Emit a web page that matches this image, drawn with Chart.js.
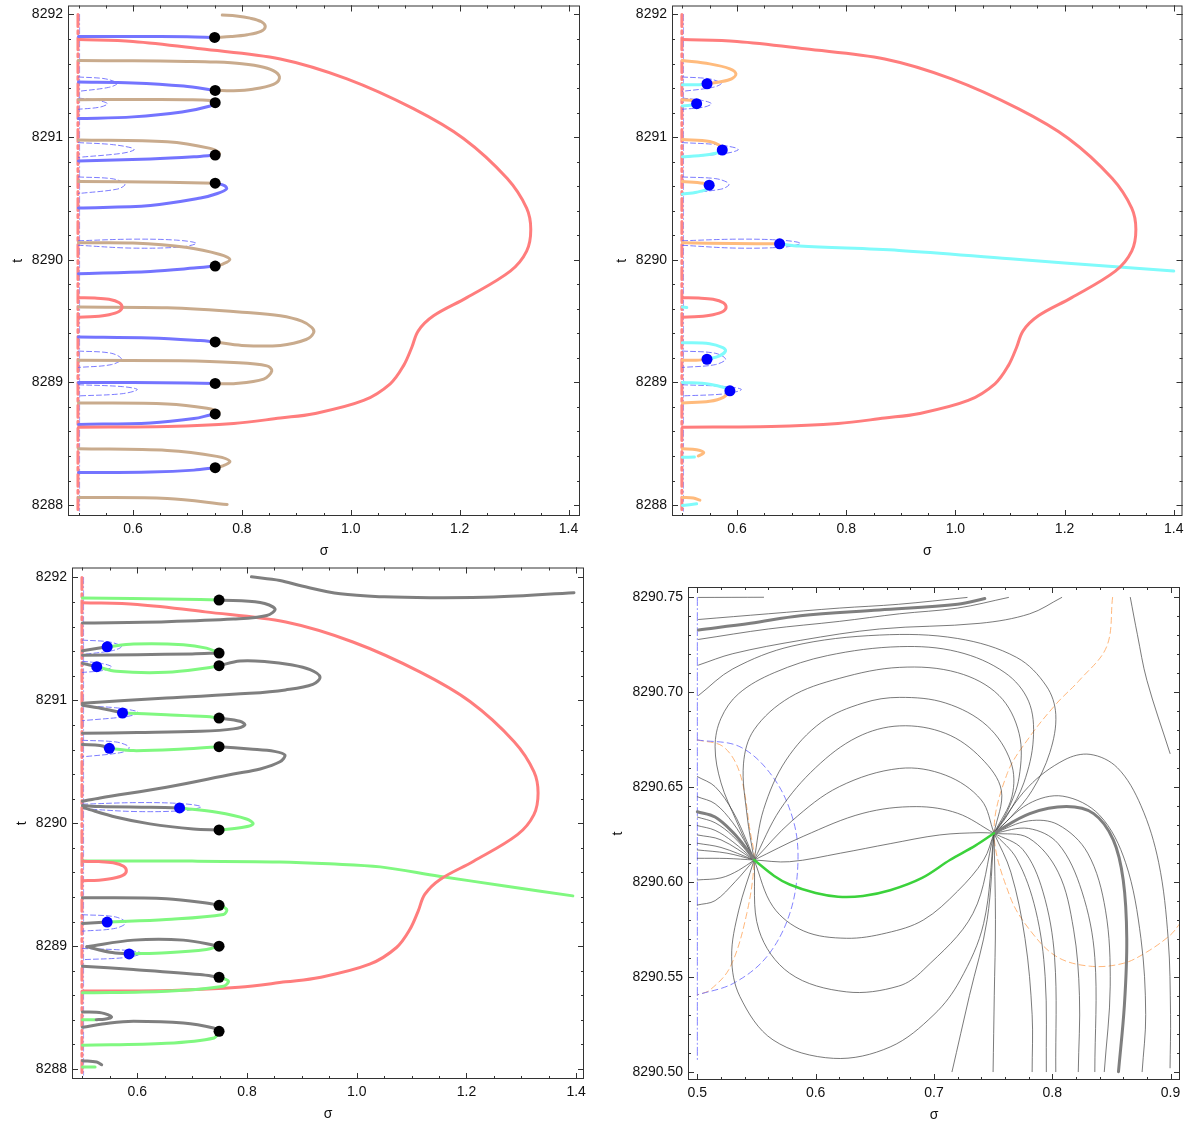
<!DOCTYPE html>
<html>
<head>
<meta charset="utf-8">
<script src="https://cdn.jsdelivr.net/npm/chart.js@4.4.1/dist/chart.umd.min.js"></script>
<style>
  body { margin: 0; background: #fff; }
  #wrap { position: relative; width: 1188px; height: 1130px; }
  canvas { position: absolute; }
</style>
</head>
<body>
<div id="wrap">
  <canvas id="cTL" width="594" height="562" style="left:0;top:0"></canvas>
  <canvas id="cTR" width="594" height="562" style="left:594px;top:0"></canvas>
  <canvas id="cBL" width="594" height="568" style="left:0;top:562px"></canvas>
  <canvas id="cBR" width="594" height="568" style="left:594px;top:562px"></canvas>
</div>
<script>
// ---- ticks ----
const xTicksMain = [0.6, 0.8, 1.0, 1.2, 1.4];
const xLabelsMain = ['0.6', '0.8', '1.0', '1.2', '1.4'];
const tTicksMain = [8288, 8289, 8290, 8291, 8292];
const tLabelsMain = ['8288', '8289', '8290', '8291', '8292'];
const xTicksZoom = [0.5, 0.6, 0.7, 0.8, 0.9];
const xLabelsZoom = ['0.5', '0.6', '0.7', '0.8', '0.9'];
const tTicksZoom = [8290.50, 8290.55, 8290.60, 8290.65, 8290.70, 8290.75];
const tLabelsZoom = ['8290.50', '8290.55', '8290.60', '8290.65', '8290.70', '8290.75'];

// ---- curves shared by the three overview panels (sigma, t) ----
const redLoop = [[0.5,8291.795],[0.6,8291.78],[0.724,8291.72],[0.8706,8291.6375],[0.993,8291.475],[1.115,8291.232],[1.207,8290.989],[1.287,8290.664],[1.323,8290.421],[1.3306,8290.246],[1.323,8290.07],[1.293,8289.907],[1.213,8289.691],[1.152,8289.543],[1.124,8289.421],[1.112,8289.285],[1.097,8289.137],[1.0725,8288.989],[1.0235,8288.853],[0.932,8288.745],[0.8706,8288.71],[0.785,8288.665],[0.663,8288.64],[0.5,8288.635]];
const redSmall = [[0.5,8289.69],[0.53,8289.688],[0.556,8289.678],[0.575,8289.65],[0.58,8289.614],[0.575,8289.58],[0.556,8289.552],[0.53,8289.537],[0.5,8289.532]];
const redEdge = [[0.499,8292.0],[0.499,8287.95]];
const blueEdge = [[0.502,8292.0],[0.502,8287.95]];
const dashLoop1 = [[0.5,8291.49],[0.545,8291.478],[0.565,8291.455],[0.571,8291.435],[0.555,8291.405],[0.5,8291.373]];
const dashLoop2 = [[0.5,8291.318],[0.535,8291.3],[0.553,8291.273],[0.54,8291.245],[0.5,8291.227]];
const dashLoop3 = [[0.5,8290.955],[0.56,8290.94],[0.598,8290.912],[0.602,8290.895],[0.58,8290.868],[0.5,8290.835]];
const dashLoop4 = [[0.5,8290.675],[0.56,8290.662],[0.582,8290.632],[0.585,8290.608],[0.57,8290.575],[0.5,8290.54]];
const dashLoop5 = [[0.5,8290.155],[0.6,8290.168],[0.68,8290.16],[0.716,8290.135],[0.69,8290.105],[0.6,8290.095],[0.5,8290.118]];
const dashLoop6 = [[0.5,8289.256],[0.56,8289.238],[0.579,8289.19],[0.56,8289.145],[0.5,8289.122]];
const dashLoop7 = [[0.5,8288.981],[0.58,8288.966],[0.608,8288.942],[0.58,8288.908],[0.5,8288.89]];

// ---- top-left panel ----
const tlTanA = [[0.764,8291.995],[0.79,8291.988],[0.815,8291.97],[0.836,8291.94],[0.843,8291.9],[0.835,8291.862],[0.81,8291.835],[0.78,8291.82],[0.752,8291.813]];
const tlBlueA = [[0.5,8291.82],[0.6,8291.821],[0.7,8291.818],[0.75,8291.813]];
const tlTanB = [[0.5,8291.624],[0.6,8291.622],[0.7,8291.617],[0.75,8291.612],[0.8,8291.598],[0.84,8291.57],[0.862,8291.53],[0.869,8291.48],[0.858,8291.43],[0.82,8291.39],[0.785,8291.378],[0.752,8291.381]];
const tlBlueB = [[0.5,8291.449],[0.6,8291.442],[0.693,8291.416],[0.75,8291.381]];
const tlTanC = [[0.5,8291.305],[0.6,8291.306],[0.7,8291.304],[0.742,8291.298],[0.751,8291.281]];
const tlBlueC = [[0.5,8291.151],[0.6,8291.165],[0.69,8291.205],[0.742,8291.254],[0.751,8291.281]];
const tlTanD = [[0.5,8290.976],[0.663,8290.962],[0.742,8290.908],[0.759,8290.868],[0.751,8290.854]];
const tlBlueD = [[0.5,8290.805],[0.632,8290.822],[0.712,8290.84],[0.751,8290.854]];
const tlTanE = [[0.5,8290.638],[0.663,8290.632],[0.751,8290.624]];
const tlBlueE = [[0.751,8290.624],[0.768,8290.605],[0.772,8290.578],[0.755,8290.54],[0.724,8290.503],[0.632,8290.443],[0.5,8290.422]];
const tlTanF = [[0.5,8290.138],[0.6,8290.136],[0.7,8290.1],[0.76,8290.043],[0.778,8290.003],[0.765,8289.965],[0.751,8289.949]];
const tlBlueF = [[0.5,8289.886],[0.632,8289.905],[0.712,8289.932],[0.751,8289.949]];
const tlTanG = [[0.5,8289.614],[0.663,8289.608],[0.816,8289.568],[0.8706,8289.543],[0.91,8289.5],[0.928,8289.45],[0.932,8289.407],[0.918,8289.35],[0.8706,8289.302],[0.8,8289.302],[0.751,8289.33]];
const tlBlueG = [[0.5,8289.37],[0.632,8289.362],[0.724,8289.341],[0.751,8289.33]];
const tlTanH = [[0.5,8289.181],[0.687,8289.176],[0.785,8289.162],[0.846,8289.135],[0.855,8289.095],[0.84,8289.027],[0.785,8288.99],[0.751,8288.992]];
const tlBlueH = [[0.5,8289.0],[0.6,8289.0],[0.7,8288.995],[0.751,8288.992]];
const tlTanI = [[0.5,8288.832],[0.663,8288.825],[0.736,8288.79],[0.758,8288.757],[0.751,8288.743]];
const tlBlueI = [[0.5,8288.657],[0.632,8288.67],[0.712,8288.705],[0.742,8288.735],[0.751,8288.743]];
const tlTanJ = [[0.5,8288.459],[0.663,8288.445],[0.754,8288.397],[0.778,8288.357],[0.765,8288.32],[0.751,8288.305]];
const tlBlueJ = [[0.5,8288.265],[0.632,8288.27],[0.712,8288.285],[0.751,8288.305]];
const tlTanK = [[0.5,8288.062],[0.663,8288.054],[0.773,8288.005]];
const tlDots = [[0.75,8291.813],[0.751,8291.381],[0.751,8291.281],[0.751,8290.854],[0.751,8290.624],[0.751,8289.949],[0.751,8289.33],[0.751,8288.992],[0.751,8288.743],[0.751,8288.305]];

// ---- top-right panel ----
const trOrA = [[0.5,8291.624],[0.55,8291.597],[0.587,8291.557],[0.598,8291.516],[0.59,8291.475],[0.568,8291.449],[0.545,8291.435]];
const trCyA = [[0.5,8291.427],[0.525,8291.427],[0.545,8291.435]];
const trOrB = [[0.5,8291.305],[0.52,8291.297],[0.526,8291.273]];
const trCyB = [[0.5,8291.254],[0.514,8291.259],[0.526,8291.273]];
const trOrC = [[0.5,8290.981],[0.55,8290.965],[0.567,8290.935],[0.573,8290.895]];
const trCyC = [[0.5,8290.84],[0.53,8290.848],[0.561,8290.868],[0.573,8290.895]];
const trOrD = [[0.5,8290.638],[0.538,8290.624],[0.549,8290.608]];
const trCyD = [[0.5,8290.535],[0.526,8290.551],[0.545,8290.575],[0.549,8290.608]];
const trOrE = [[0.5,8290.138],[0.593,8290.132],[0.678,8290.13]];
const trCyE = [[0.678,8290.13],[0.714,8290.112],[0.897,8290.076],[1.1,8290.008],[1.3,8289.941],[1.4,8289.908]];
const trCySmall = [[0.5,8289.614],[0.508,8289.61]];
const trCyF = [[0.5,8289.324],[0.55,8289.316],[0.574,8289.284],[0.579,8289.257],[0.568,8289.216],[0.545,8289.189]];
const trOrF = [[0.5,8289.181],[0.525,8289.181],[0.545,8289.189]];
const trCyG = [[0.5,8289.0],[0.55,8288.986],[0.58,8288.954],[0.587,8288.932]];
const trOrG = [[0.5,8288.832],[0.55,8288.846],[0.575,8288.878],[0.587,8288.932]];
const trOrH = [[0.5,8288.459],[0.526,8288.451],[0.539,8288.427],[0.529,8288.4]];
const trCyH = [[0.5,8288.389],[0.522,8288.392]];
const trOrI = [[0.5,8288.062],[0.52,8288.057],[0.532,8288.04]];
const trCyI = [[0.5,8287.997],[0.526,8288.01]];
const trBlueDots = [[0.545,8291.435],[0.526,8291.273],[0.573,8290.895],[0.549,8290.608],[0.678,8290.13],[0.545,8289.189],[0.587,8288.932]];

// ---- bottom-left panel ----
const blGreenA = [[0.5,8291.832],[0.681,8291.823],[0.749,8291.816]];
const blGrayA = [[0.749,8291.816],[0.824,8291.797],[0.851,8291.743],[0.836,8291.69],[0.775,8291.661],[0.653,8291.64],[0.5,8291.629]];
const blGrayTop = [[0.808,8292.005],[0.86,8291.976],[0.9,8291.93],[0.97,8291.867],[1.05,8291.842],[1.134,8291.835],[1.25,8291.84],[1.396,8291.876]];
const blGreenB = [[0.545,8291.436],[0.593,8291.458],[0.684,8291.453],[0.726,8291.425],[0.749,8291.385]];
const blGrayB1 = [[0.5,8291.404],[0.545,8291.436]];
const blGrayB2 = [[0.5,8291.368],[0.6,8291.372],[0.7,8291.378],[0.749,8291.385]];
const blGrayC1 = [[0.5,8291.301],[0.526,8291.274]];
const blGreenC = [[0.526,8291.274],[0.562,8291.236],[0.653,8291.228],[0.726,8291.263],[0.749,8291.282]];
const blGrayD = [[0.749,8291.282],[0.787,8291.32],[0.836,8291.315],[0.88,8291.29],[0.915,8291.25],[0.933,8291.19],[0.92,8291.13],[0.87,8291.085],[0.805,8291.057],[0.653,8291.019],[0.5,8290.976]];
const blGrayE1 = [[0.5,8290.96],[0.54,8290.93],[0.573,8290.897]];
const blGreenE = [[0.573,8290.897],[0.653,8290.883],[0.726,8290.868],[0.749,8290.856]];
const blGrayE2 = [[0.749,8290.856],[0.787,8290.83],[0.796,8290.8],[0.775,8290.768],[0.714,8290.748],[0.6,8290.738],[0.5,8290.732]];
const blGrayF1 = [[0.5,8290.64],[0.532,8290.632],[0.549,8290.61]];
const blGreenF = [[0.549,8290.61],[0.593,8290.591],[0.684,8290.604],[0.749,8290.623]];
const blGrayF2 = [[0.749,8290.623],[0.805,8290.604],[0.85,8290.585],[0.869,8290.555],[0.86,8290.5],[0.824,8290.442],[0.775,8290.401],[0.653,8290.293],[0.532,8290.206],[0.5,8290.179]];
const blGrayG1 = [[0.5,8290.144],[0.532,8290.136],[0.623,8290.13],[0.677,8290.125]];
const blGreenG = [[0.677,8290.125],[0.745,8290.089],[0.799,8290.035],[0.811,8289.995],[0.793,8289.967],[0.749,8289.946]];
const blGrayG2 = [[0.503,8290.125],[0.562,8290.049],[0.623,8289.995],[0.702,8289.954],[0.749,8289.946]];
const blGreenH = [[0.5,8289.693],[0.7,8289.692],[0.86,8289.685],[0.95,8289.67],[1.043,8289.645],[1.15,8289.569],[1.27,8289.49],[1.394,8289.409]];
const blGrayI = [[0.5,8289.394],[0.653,8289.386],[0.739,8289.342],[0.749,8289.332]];
const blGreenI = [[0.749,8289.332],[0.763,8289.299],[0.757,8289.258],[0.653,8289.217],[0.545,8289.196]];
const blGrayI2 = [[0.5,8289.185],[0.545,8289.196]];
const blGrayJ = [[0.508,8288.995],[0.593,8289.049],[0.684,8289.049],[0.749,8289.0]];
const blGrayJ2 = [[0.508,8288.995],[0.55,8288.951],[0.585,8288.937]];
const blGreenJ = [[0.585,8288.937],[0.653,8288.946],[0.726,8288.973],[0.749,8289.0]];
const blGrayK = [[0.5,8288.837],[0.593,8288.81],[0.714,8288.769],[0.749,8288.747]];
const blGreenK = [[0.749,8288.747],[0.766,8288.715],[0.757,8288.674],[0.653,8288.633],[0.5,8288.62]];
const blGrayL = [[0.5,8288.465],[0.535,8288.457],[0.553,8288.424],[0.54,8288.405],[0.525,8288.402]];
const blGreenL = [[0.5,8288.402],[0.523,8288.402]];
const blGrayM = [[0.5,8288.34],[0.55,8288.375],[0.593,8288.389],[0.684,8288.375],[0.739,8288.334],[0.749,8288.307]];
const blGreenM = [[0.749,8288.307],[0.74,8288.253],[0.653,8288.209],[0.5,8288.193]];
const blGrayN = [[0.5,8288.068],[0.526,8288.057],[0.535,8288.035]];
const blGreenN = [[0.5,8288.016],[0.523,8288.016]];
const blBlackDots = [[0.749,8291.816],[0.749,8291.385],[0.749,8291.282],[0.749,8290.856],[0.749,8290.623],[0.749,8289.946],[0.749,8289.332],[0.749,8289.0],[0.749,8288.747],[0.749,8288.307]];
const blBlueDots = [[0.545,8291.436],[0.526,8291.274],[0.573,8290.897],[0.549,8290.61],[0.677,8290.125],[0.545,8289.196],[0.585,8288.937]];

// ---- bottom-right panel (zoom) ----
const brA1 = [[0.501,8290.7496],[0.556,8290.7497]];
const brA2 = [[0.501,8290.738],[0.56,8290.741],[0.62,8290.744],[0.67,8290.746],[0.728,8290.7496]];
const brA3 = [[0.501,8290.7325],[0.545,8290.736],[0.587,8290.74],[0.654,8290.743],[0.72,8290.746],[0.743,8290.749]];
const brA4 = [[0.501,8290.7275],[0.56,8290.733],[0.62,8290.737],[0.671,8290.741],[0.72,8290.744],[0.763,8290.7496]];
const brA5 = [[0.501,8290.714],[0.53,8290.72],[0.587,8290.727],[0.654,8290.733],[0.739,8290.736],[0.781,8290.741],[0.808,8290.7496]];
const brB1 = [[0.501,8290.698],[0.53,8290.712],[0.58,8290.724],[0.654,8290.7298],[0.72,8290.728],[0.77,8290.718],[0.795,8290.703],[0.803,8290.688],[0.798,8290.668],[0.783,8290.648],[0.765,8290.634],[0.7508,8290.6255]];
const brArch1 = [[0.548,8290.6114],[0.533,8290.632],[0.52,8290.652],[0.515,8290.671],[0.52,8290.686],[0.535,8290.699],[0.565,8290.71],[0.61,8290.719],[0.671,8290.7237],[0.72,8290.721],[0.76,8290.71],[0.78,8290.695],[0.784,8290.675],[0.776,8290.652],[0.762,8290.635],[0.7508,8290.6255]];
const brArch2 = [[0.548,8290.6114],[0.542,8290.635],[0.539,8290.662],[0.548,8290.68],[0.578,8290.697],[0.62,8290.707],[0.671,8290.7128],[0.72,8290.71],[0.755,8290.698],[0.772,8290.678],[0.772,8290.655],[0.762,8290.637],[0.7508,8290.6255]];
const brArch3 = [[0.548,8290.6114],[0.556,8290.638],[0.575,8290.664],[0.605,8290.684],[0.64,8290.694],[0.671,8290.697],[0.71,8290.694],[0.745,8290.682],[0.765,8290.663],[0.766,8290.645],[0.7508,8290.6255]];
const brArch4 = [[0.548,8290.6114],[0.57,8290.638],[0.6,8290.66],[0.635,8290.676],[0.671,8290.682],[0.71,8290.678],[0.74,8290.665],[0.757,8290.648],[0.7508,8290.6255]];
const brArch5 = [[0.548,8290.6114],[0.58,8290.632],[0.62,8290.65],[0.671,8290.6596],[0.71,8290.656],[0.74,8290.643],[0.7508,8290.6255]];
const brArch6 = [[0.548,8290.6114],[0.59,8290.624],[0.64,8290.636],[0.685,8290.6395],[0.72,8290.636],[0.7508,8290.6255]];
const brStraight = [[0.548,8290.6114],[0.578,8290.6105],[0.621,8290.615],[0.663,8290.62],[0.705,8290.6246],[0.739,8290.6258],[0.7508,8290.6255]];
const brGreen = [[0.548,8290.6114],[0.565,8290.603],[0.578,8290.5985],[0.6,8290.594],[0.619,8290.5921],[0.64,8290.5925],[0.663,8290.5955],[0.69,8290.602],[0.7135,8290.6114],[0.735,8290.619],[0.7508,8290.6255]];
const brLow1 = [[0.548,8290.6114],[0.564,8290.5868],[0.59,8290.574],[0.626,8290.5702],[0.66,8290.573],[0.691,8290.5798],[0.72,8290.595],[0.742,8290.6114],[0.7508,8290.6255]];
const brLow2 = [[0.548,8290.6114],[0.552,8290.5746],[0.578,8290.5518],[0.626,8290.542],[0.67,8290.545],[0.691,8290.5535],[0.733,8290.5833],[0.7508,8290.6255]];
const brLow3 = [[0.548,8290.6114],[0.535,8290.585],[0.529,8290.5605],[0.536,8290.5395],[0.564,8290.5167],[0.615,8290.507],[0.663,8290.513],[0.7,8290.53],[0.722,8290.548],[0.742,8290.578],[0.7508,8290.6255]];
const brLE1 = [[0.5,8290.6553],[0.515,8290.65],[0.53,8290.637],[0.542,8290.621],[0.548,8290.6114]];
const brLE2 = [[0.5,8290.6447],[0.515,8290.641],[0.53,8290.631],[0.542,8290.619],[0.548,8290.6114]];
const brLE3 = [[0.5,8290.6368],[0.515,8290.634],[0.53,8290.626],[0.542,8290.617],[0.548,8290.6114]];
const brLE4 = [[0.5,8290.634],[0.515,8290.631],[0.53,8290.624],[0.548,8290.6114]];
const brLE5 = [[0.5,8290.6295],[0.515,8290.627],[0.53,8290.621],[0.548,8290.6114]];
const brLE6 = [[0.5,8290.6246],[0.52,8290.622],[0.548,8290.6114]];
const brLE7 = [[0.5,8290.6202],[0.52,8290.618],[0.548,8290.6114]];
const brLE8 = [[0.5,8290.6167],[0.525,8290.615],[0.548,8290.6114]];
const brLE9 = [[0.5,8290.6123],[0.525,8290.6122],[0.548,8290.6114]];
const brLE10 = [[0.5,8290.6009],[0.52,8290.602],[0.535,8290.606],[0.548,8290.6114]];
const brLE11 = [[0.5,8290.5877],[0.515,8290.59],[0.532,8290.6],[0.548,8290.6114]];
const brR1 = [[0.7508,8290.6255],[0.78,8290.65],[0.81,8290.664],[0.832,8290.667],[0.855,8290.66],[0.875,8290.64],[0.89,8290.61],[0.898,8290.57],[0.9,8290.53],[0.8996,8290.502]];
const brR2 = [[0.7508,8290.6255],[0.78,8290.641],[0.809,8290.645],[0.84,8290.635],[0.862,8290.61],[0.875,8290.57],[0.879,8290.53],[0.876,8290.5]];
const brR3 = [[0.7508,8290.6255],[0.781,8290.6358],[0.812,8290.6395],[0.835,8290.6358],[0.8516,8290.622],[0.86,8290.6009],[0.863,8290.57],[0.861,8290.535],[0.856,8290.5]];
const brR4 = [[0.7508,8290.6255],[0.78,8290.632],[0.805,8290.63],[0.83,8290.615],[0.845,8290.585],[0.849,8290.545],[0.844,8290.5]];
const brR5 = [[0.7508,8290.6255],[0.78,8290.628],[0.805,8290.62],[0.825,8290.595],[0.836,8290.56],[0.836,8290.5]];
const brR6 = [[0.7508,8290.6255],[0.78,8290.623],[0.805,8290.605],[0.818,8290.575],[0.823,8290.54],[0.822,8290.5]];
const brR7 = [[0.7508,8290.6255],[0.775,8290.617],[0.792,8290.595],[0.802,8290.56],[0.803,8290.5]];
const brR8 = [[0.7508,8290.6255],[0.77,8290.612],[0.786,8290.585],[0.794,8290.55],[0.795,8290.5]];
const brR9 = [[0.7508,8290.6255],[0.765,8290.605],[0.777,8290.57],[0.783,8290.53],[0.783,8290.5]];
const brR10 = [[0.7508,8290.6255],[0.752,8290.58],[0.751,8290.54],[0.75,8290.5]];
const brR11 = [[0.7508,8290.6255],[0.745,8290.58],[0.73,8290.54],[0.7153,8290.5]];
const brFar = [[0.866,8290.7496],[0.872,8290.73],[0.88,8290.706],[0.8996,8290.6675]];
const brBlueArc = [[0.5,8290.6746],[0.536,8290.671],[0.564,8290.655],[0.581,8290.6325],[0.585,8290.6096],[0.578,8290.583],[0.5587,8290.5605],[0.5305,8290.5465],[0.5,8290.5404]];
const brOrangeL = [[0.5,8290.6746],[0.522,8290.671],[0.536,8290.657],[0.5445,8290.627],[0.548,8290.6114],[0.5417,8290.583],[0.5277,8290.555],[0.5107,8290.543],[0.5,8290.5404]];
const brOrangeR = [[0.851,8290.7496],[0.846,8290.7237],[0.823,8290.706],[0.804,8290.694],[0.781,8290.6763],[0.762,8290.657],[0.7508,8290.6255],[0.7644,8290.592],[0.781,8290.5746],[0.8038,8290.5605],[0.832,8290.5555],[0.86,8290.557],[0.88,8290.563],[0.9,8290.572],[0.908,8290.578]];
const brBlueEdge = [[0.5,8290.7496],[0.5,8290.505]];

// ---- colours ----
const RED = '#ff7d7d', BLUE = '#7474ff', TAN = '#c9ab8d', ORANGE = '#ffbb7d', CYAN = '#80fbfb',
      GREEN = '#80f880', GRAY = '#7f7f7f', THIN = 'rgba(70,70,70,0.8)', BRGREEN = '#3bd23b';

function curve(arr, color, width, dash) {
  return {
    data: arr.map(p => ({ x: p[0], y: p[1] })),
    showLine: true, borderColor: color, borderWidth: width || 3,
    borderDash: dash || [], pointRadius: 0, pointHoverRadius: 0,
    tension: 0.35, fill: false, borderJoinStyle: 'round', borderCapStyle: 'round'
  };
}
function dots(arr, color, r) {
  return {
    data: arr.map(p => ({ x: p[0], y: p[1] })),
    showLine: false, pointRadius: r, pointHoverRadius: r,
    backgroundColor: color, borderWidth: 0
  };
}
function range(a, b, step) {
  const out = [];
  for (let v = a; v <= b + step / 2; v += step) out.push(+v.toFixed(4));
  return out;
}

// frame with inward ticks on all four sides
const framePlugin = {
  id: 'frame',
  afterDraw(chart, args, o) {
    const { ctx, chartArea: a } = chart;
    const sx = chart.scales.x, sy = chart.scales.y;
    ctx.save();
    ctx.strokeStyle = '#333';
    ctx.lineWidth = 1;
    ctx.strokeRect(a.left + 0.5, a.top + 0.5, a.right - a.left - 1, a.bottom - a.top - 1);
    const drawX = (vals, len) => vals.forEach(v => {
      const px = Math.round(sx.getPixelForValue(v)) + 0.5;
      if (px < a.left || px > a.right) return;
      ctx.beginPath();
      ctx.moveTo(px, a.bottom); ctx.lineTo(px, a.bottom - len);
      ctx.moveTo(px, a.top); ctx.lineTo(px, a.top + len);
      ctx.stroke();
    });
    const drawY = (vals, len) => vals.forEach(v => {
      const py = Math.round(sy.getPixelForValue(v)) + 0.5;
      if (py < a.top || py > a.bottom) return;
      ctx.beginPath();
      ctx.moveTo(a.left, py); ctx.lineTo(a.left + len, py);
      ctx.moveTo(a.right, py); ctx.lineTo(a.right - len, py);
      ctx.stroke();
    });
    drawX(o.xMinor, 3); drawX(o.xMajor, 6);
    drawY(o.yMinor, 3); drawY(o.yMajor, 6);
    ctx.restore();
  }
};

const FONT = { family: "'Liberation Sans', Arial, sans-serif", size: 14 };

// scales must not reserve extra room for their end labels
function noPad(s) { s.paddingTop = 0; s.paddingBottom = 0; s.paddingLeft = 0; s.paddingRight = 0; }

function makeChart(id, c) {
  return new Chart(document.getElementById(id), {
    type: 'scatter',
    data: { datasets: c.datasets },
    plugins: [framePlugin],
    options: {
      responsive: false,
      animation: false,
      events: [],
      layout: { padding: c.padding },
      plugins: {
        legend: { display: false },
        tooltip: { enabled: false },
        frame: { xMajor: c.xTicks, xMinor: c.xMinor, yMajor: c.yTicks, yMinor: c.yMinor }
      },
      scales: {
        x: {
          type: 'linear', min: c.xMin, max: c.xMax,
          afterBuildTicks: s => { s.ticks = c.xTicks.map(v => ({ value: v })); },
          afterFit: s => { s.height = 44; noPad(s); },
          grid: { display: false, drawTicks: false },
          border: { display: false },
          ticks: { autoSkip: false, maxRotation: 0, padding: 5, color: '#111', font: FONT,
                   callback: (v, i) => c.xLabels[i] },
          title: { display: true, text: 'σ', color: '#111', font: FONT, padding: 0 }
        },
        y: {
          type: 'linear', min: c.yMin, max: c.yMax,
          afterBuildTicks: s => { s.ticks = c.yTicks.map(v => ({ value: v })); },
          afterFit: s => { s.width = c.yWidth; noPad(s); },
          grid: { display: false, drawTicks: false },
          border: { display: false },
          ticks: { autoSkip: false, padding: 5, color: '#111', font: FONT,
                   callback: (v, i) => c.yLabels[i] },
          title: { display: true, text: 't', color: '#111', font: FONT, padding: { top: 10, bottom: 0 } }
        }
      }
    }
  });
}

const EDGE_DASH = [12, 4, 3, 4];
const LOOP_DASH = [5, 3];
const loopColor = 'rgba(90,90,255,0.8)';
const sharedBack = [
  curve(redEdge, 'rgba(255,80,80,0.7)', 3, EDGE_DASH),
  curve(blueEdge, 'rgba(100,100,255,0.6)', 1, [6, 3, 1, 3])
];
const sharedLoops = [dashLoop1, dashLoop2, dashLoop3, dashLoop4, dashLoop5, dashLoop6, dashLoop7]
  .map(a => curve(a, loopColor, 1, LOOP_DASH));

const mainAxes = {
  xTicks: xTicksMain, xLabels: xLabelsMain, xMinor: range(0.5, 1.4, 0.05),
  yTicks: tTicksMain, yLabels: tLabelsMain, yMinor: range(8288, 8292, 0.2), yWidth: 68
};

// top-left
makeChart('cTL', Object.assign({}, mainAxes, {
  xMin: 0.4807, xMax: 1.421, yMin: 8287.911, yMax: 8292.073,
  padding: { left: 0, right: 14, top: 3, bottom: 2 },
  datasets: [
    dots(tlDots, '#000', 5.5),
    curve(redLoop, RED), curve(redSmall, RED),
    curve(tlTanA, TAN), curve(tlBlueA, BLUE), curve(tlTanB, TAN), curve(tlBlueB, BLUE),
    curve(tlTanC, TAN), curve(tlBlueC, BLUE), curve(tlTanD, TAN), curve(tlBlueD, BLUE),
    curve(tlTanE, TAN), curve(tlBlueE, BLUE), curve(tlTanF, TAN), curve(tlBlueF, BLUE),
    curve(tlTanG, TAN), curve(tlBlueG, BLUE), curve(tlTanH, TAN), curve(tlBlueH, BLUE),
    curve(tlTanI, TAN), curve(tlBlueI, BLUE), curve(tlTanJ, TAN), curve(tlBlueJ, BLUE),
    curve(tlTanK, TAN),
    ...sharedLoops, ...sharedBack
  ]
}));

// top-right
makeChart('cTR', Object.assign({}, mainAxes, {
  xMin: 0.4809, xMax: 1.416, yMin: 8287.911, yMax: 8292.073,
  padding: { left: 10, right: 3, top: 3, bottom: 2 },
  datasets: [
    dots(trBlueDots, '#0000ff', 5.5),
    curve(redLoop, RED), curve(redSmall, RED),
    curve(trOrA, ORANGE), curve(trCyA, CYAN), curve(trOrB, ORANGE), curve(trCyB, CYAN),
    curve(trOrC, ORANGE), curve(trCyC, CYAN), curve(trOrD, ORANGE), curve(trCyD, CYAN),
    curve(trOrE, ORANGE), curve(trCyE, CYAN), curve(trCySmall, CYAN),
    curve(trCyF, CYAN), curve(trOrF, ORANGE), curve(trCyG, CYAN), curve(trOrG, ORANGE),
    curve(trOrH, ORANGE), curve(trCyH, CYAN), curve(trOrI, ORANGE), curve(trCyI, CYAN),
    ...sharedLoops, ...sharedBack
  ]
}));

// bottom-left
makeChart('cBL', Object.assign({}, mainAxes, {
  xMin: 0.4809, xMax: 1.4143, yMin: 8287.919, yMax: 8292.081,
  padding: { left: 4, right: 10, top: 5, bottom: 7 },
  datasets: [
    dots(blBlueDots, '#0000ff', 5.5), dots(blBlackDots, '#000', 5.5),
    curve(blGrayTop, GRAY),
    curve(blGreenA, GREEN), curve(blGrayA, GRAY), curve(blGreenB, GREEN), curve(blGrayB1, GRAY),
    curve(blGrayB2, GRAY), curve(blGrayC1, GRAY), curve(blGreenC, GREEN), curve(blGrayD, GRAY),
    curve(blGrayE1, GRAY), curve(blGreenE, GREEN), curve(blGrayE2, GRAY),
    curve(blGrayF1, GRAY), curve(blGreenF, GREEN), curve(blGrayF2, GRAY),
    curve(blGrayG1, GRAY), curve(blGreenG, GREEN), curve(blGrayG2, GRAY),
    curve(blGrayI, GRAY), curve(blGreenI, GREEN), curve(blGrayI2, GRAY),
    curve(blGrayJ, GRAY), curve(blGrayJ2, GRAY), curve(blGreenJ, GREEN),
    curve(blGrayK, GRAY), curve(blGreenK, GREEN), curve(blGrayL, GRAY), curve(blGreenL, GREEN),
    curve(blGrayM, GRAY), curve(blGreenM, GREEN), curve(blGrayN, GRAY), curve(blGreenN, GREEN),
    curve(redLoop, RED), curve(redSmall, RED), curve(blGreenH, GREEN),
    ...sharedLoops, ...sharedBack
  ]
}));

// bottom-right (zoom on the two saddle points)
makeChart('cBR', {
  xTicks: xTicksZoom, xLabels: xLabelsZoom, xMinor: range(0.5, 0.9, 0.02),
  yTicks: tTicksZoom, yLabels: tLabelsZoom, yMinor: range(8290.5, 8290.75, 0.01), yWidth: 88,
  xMin: 0.4921, xMax: 0.908, yMin: 8290.4956, yMax: 8290.7551,
  padding: { left: 6, right: 8, top: 25, bottom: 6 },
  datasets: [
    curve(brGreen, BRGREEN, 2.5),
    curve(brA3, GRAY, 3), curve(brLE3, GRAY, 3), curve(brR3, GRAY, 3),
    ...[brA1, brA2, brA4, brA5, brB1, brArch1, brArch2, brArch3, brArch4, brArch5, brArch6,
        brStraight, brLow1, brLow2, brLow3, brLE1, brLE2, brLE4, brLE5, brLE6, brLE7, brLE8,
        brLE9, brLE10, brLE11, brR1, brR2, brR4, brR5, brR6, brR7, brR8, brR9, brR10, brR11, brFar]
      .map(a => curve(a, THIN, 0.9)),
    curve(brBlueArc, 'rgba(100,100,255,0.8)', 1, [6, 4]),
    curve(brOrangeL, 'rgba(255,170,100,0.85)', 1, [6, 4]),
    curve(brOrangeR, 'rgba(255,170,100,0.85)', 1, [6, 4]),
    curve(brBlueEdge, 'rgba(100,100,255,0.8)', 1, [8, 3, 1, 3])
  ]
});
</script>
</body>
</html>
